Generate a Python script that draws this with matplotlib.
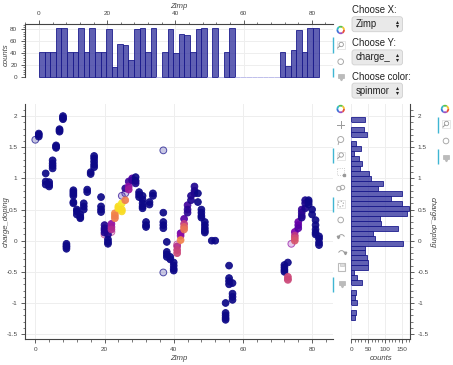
import matplotlib
matplotlib.use("Agg")
import matplotlib.pyplot as plt
import numpy as np
from matplotlib.patches import FancyBboxPatch, Wedge, Rectangle, Circle
from matplotlib.ticker import MultipleLocator, FuncFormatter

# -----------------------
# DATA
# -----------------------

# top histogram of Zimp (50 bins)
zimp_counts = [42, 41, 42, 83, 82, 42, 41, 82, 42, 83,
               41, 41, 80, 17, 56, 54, 29, 80, 82, 41,
               82, 0, 42, 80, 40, 72, 71, 42, 80, 83,
               0, 83, 0, 42, 83, 0, 0, 0, 0, 0,
               0, 0, 0, 42, 18, 45, 79, 42, 83, 82]

# right histogram of charge_doping, top to bottom
doping_counts = [40, 0, 36, 46, 0, 14, 30, 8, 24, 32, 26, 52, 58, 92,
                 80, 148, 116, 150, 170, 165, 85, 87, 138, 65, 69, 153,
                 40, 40, 45, 50, 50, 8, 16, 31, 0, 13, 11, 18, 0, 13, 10]

# scatter, one entry per Zimp column
column_zimp = [1, 3, 4, 5, 6, 7, 8, 9, 11, 12, 13, 14, 15, 16, 17, 19, 20, 21,
               22, 23, 24, 25, 26, 27, 28, 29, 30, 31, 32, 33, 34, 37, 38, 39,
               40, 41, 42, 43, 44, 45, 46, 47, 48, 49, 51, 52, 55, 56, 57,
               72, 73, 75, 76, 77, 78, 79, 80, 81, 82]
column_doping = [
    [1.67, 1.70, 1.72], [1.08, 0.95, 0.90], [0.94, 0.90, 0.87],
    [1.29, 1.24, 1.20, 1.16], [1.53, 1.51, 1.49], [1.79, 1.77, 1.75],
    [2.0, 1.97, 1.95], [-0.05, -0.08, -0.10, -0.13],
    [0.81, 0.78, 0.75, 0.72, 0.62, 0.60], [0.50, 0.47, 0.42],
    [0.42, 0.38, 0.36], [0.60, 0.55, 0.50], [0.82, 0.78], [1.10, 1.07],
    [1.36, 1.32, 1.27, 1.22, 1.18], [0.70, 0.55, 0.50, 0.46],
    [0.25, 0.20, 0.17, 0.13], [0.10, 0.02, -0.02, -0.05],
    [0.27, 0.22, 0.18], [0.44, 0.40, 0.36], [0.55, 0.52],
    [0.60, 0.50, 0.47], [0.65, 0.84], [0.95, 0.87, 0.82], [1.00, 0.97],
    [1.02, 0.96, 0.92], [0.78, 0.74, 0.70], [0.72, 0.66, 0.60, 0.55, 0.52],
    [0.30, 0.25, 0.22], [0.62, 0.58], [0.76, 0.72],
    [0.45, 0.30, 0.25, 0.20], [-0.02, -0.18, -0.22, -0.26], [-0.26, -0.30],
    [-0.35, -0.40, -0.45, -0.48], [-0.09, -0.15, -0.20], [0.12, 0.08, 0.01],
    [0.35, 0.27, 0.22, 0.18], [0.57, 0.50, 0.45], [0.72, 0.65],
    [0.87, 0.80, 0.76], [0.76, 0.62], [0.50, 0.45, 0.40, 0.37],
    [0.30, 0.25, 0.20, 0.16, 0.13], [0.0], [0.0],
    [-1.0, -1.16, -1.20, -1.24, -1.27], [-0.40, -0.60, -0.65, -0.70],
    [-0.68, -0.85, -0.90, -0.95], [-0.39, -0.43, -0.47, -0.50],
    [-0.35, -0.58, -0.62], [0.14, 0.08, 0.04, 0.0], [0.30, 0.25, 0.20],
    [0.50, 0.45, 0.40, 0.37], [0.65, 0.60, 0.52], [0.65, 0.62, 0.58],
    [0.50, 0.42], [0.33, 0.25, 0.18, 0.13, 0.10], [0.07, 0.03, -0.03, -0.07],
]
column_spin = [
    [0, 0, 0], [0, 0, 0], [0, 0, 0], [0, 0, 0, 0], [0, 0, 0], [0, 0, 0],
    [0, 0, 0], [0, 0, 0, 0], [0, 0, 0, 0, 0, 0], [0, 0, 0], [0, 0, 0],
    [0, 0, 0], [0, 0], [0, 0], [0, 0, 0, 0, 0], [0, 0, 0, 0],
    [0.03, 0.03, 0.03, 0.03], [0.03, 0, 0, 0], [0.3, 0.35, 0.4],
    [0.72, 0.7, 0.68], [0.93, 0.93], [0.96, 0.93, 0.93], [0.68, 0.05],
    [0.1, 0.3, 0.35], [0.15, 0.08], [0, 0, 0.02], [0, 0, 0],
    [0, 0, 0, 0, 0], [0, 0, 0], [0, 0], [0, 0], [0, 0, 0, 0],
    [0, 0, 0, 0], [0, 0], [0, 0, 0, 0], [0.42, 0.48, 0.5], [0.2, 0.3, 0.7],
    [0.15, 0.45, 0.6, 0.65], [0.1, 0.05, 0.05], [0.03, 0.03],
    [0.03, 0.03, 0.03], [0, 0], [0, 0, 0, 0], [0, 0, 0, 0, 0], [0], [0],
    [0, 0, 0, 0, 0], [0, 0, 0, 0], [0, 0, 0, 0], [0, 0, 0, 0],
    [0, 0.5, 0.5], [0.25, 0.45, 0.52, 0.55], [0.2, 0.18, 0.15],
    [0.08, 0.05, 0.05, 0.03], [0.02, 0.02, 0.02], [0, 0, 0], [0, 0],
    [0, 0, 0, 0, 0], [0, 0, 0, 0],
]

# isolated points, drawn pale
faint_zimp = [0, 37, 37, 25, 26, 74, 20, 22, 41, 73]
faint_doping = [1.62, -0.51, 1.45, 0.72, 0.76, -0.05, 0.10, 0.14, -0.06, -0.63]
faint_spin = [0.0, 0.0, 0.0, 0.05, 0.05, 0.3, 0.42, 0.42, 0.42, 0.5]

x_ticks = [0, 20, 40, 60, 80]
y_ticks = [-1.5, -1, -0.5, 0, 0.5, 1, 1.5, 2]
top_count_ticks = [0, 20, 40, 60, 80]
right_count_ticks = [0, 50, 100, 150]

widget_labels = ["Choose X:", "Choose Y:", "Choose color:"]
widget_values = ["Zimp", "charge_", "spinmor"]

# -----------------------
# LAYOUT HELPERS
# -----------------------

W, H = 453, 365
GREY = "#444444"
GRID = "#eeeeee"
BAR_FILL = (0.2, 0.2, 0.62, 0.78)
BAR_EDGE = (0.1, 0.1, 0.55, 0.85)
EMPTY_EDGE = (0.75, 0.75, 0.92, 1.0)
SANS = ["Liberation Sans", "DejaVu Sans"]

plt.rcParams["font.family"] = SANS


def px_axes(fig, left, top, right, bottom):
    return fig.add_axes([left / W, 1 - bottom / H, (right - left) / W, (bottom - top) / H])


def fmt_tick(v, _pos=None):
    return f"{v:g}"


def style_axes(ax, x_minor, y_minor):
    ax.xaxis.set_minor_locator(MultipleLocator(x_minor))
    ax.yaxis.set_minor_locator(MultipleLocator(y_minor))
    ax.xaxis.set_major_formatter(FuncFormatter(fmt_tick))
    ax.yaxis.set_major_formatter(FuncFormatter(fmt_tick))
    ax.tick_params(which="major", length=3, width=0.6, color=GREY, labelsize=4.6,
                   labelcolor=GREY, pad=2.5)
    ax.tick_params(which="minor", length=1.8, width=0.5, color=GREY)
    ax.grid(True, color=GRID, lw=0.7)
    ax.set_axisbelow(True)
    for s in ax.spines.values():
        s.set_visible(False)
        s.set_linewidth(0.8)
        s.set_color(GREY)


def axis_label(ov, x, y, text, rotation=0):
    ov.text(x, y, text, style="italic", fontsize=5.6, color=GREY, rotation=rotation,
            ha="center", va="center")


def logo(ov, x, y):
    colors = ["#f2c230", "#e8503a", "#a04fc0", "#3f73d8", "#35b8c8", "#5cc24a"]
    for i, c in enumerate(colors):
        ov.add_patch(Wedge((x, y), 4.2, i * 60 - 60, i * 60, width=1.8, fc=c, ec="none"))


def icon_zoom(ov, x, y):
    ov.add_patch(Rectangle((x - 4, y - 4), 8, 8, fc="none", ec="#dddddd", lw=0.5))
    ov.add_patch(Circle((x + 0.5, y - 0.5), 2.2, fc="none", ec="#999999", lw=0.6))
    ov.plot([x - 1, x - 3], [y + 1, y + 3], color="#999999", lw=0.7)


def icon_circle(ov, x, y):
    ov.add_patch(Circle((x, y), 2.8, fc="none", ec="#aaaaaa", lw=0.7))


def icon_move(ov, x, y):
    ov.plot([x - 3.5, x + 3.5], [y, y], color="#999999", lw=0.7)
    ov.plot([x, x], [y - 3.5, y + 3.5], color="#999999", lw=0.7)


def icon_lasso(ov, x, y):
    ov.add_patch(Circle((x, y - 0.5), 3, fc="none", ec="#aaaaaa", lw=0.7))
    ov.plot([x - 2, x - 2.5], [y + 2, y + 4.5], color="#aaaaaa", lw=0.7)


def icon_box(ov, x, y):
    ov.add_patch(Rectangle((x - 3.5, y - 3.5), 7, 7, fc="none", ec="#bbbbbb", lw=0.6, ls=":"))
    ov.plot([x + 3], [y + 3], "s", ms=1.5, color="#999999")


def icon_link(ov, x, y):
    ov.add_patch(Circle((x - 1.8, y + 0.5), 2.2, fc="none", ec="#aaaaaa", lw=0.7))
    ov.add_patch(Circle((x + 1.8, y - 0.5), 2.2, fc="none", ec="#aaaaaa", lw=0.7))


def icon_wheel(ov, x, y):
    ov.add_patch(Rectangle((x - 4, y - 4), 8, 8, fc="none", ec="#dddddd", lw=0.5))
    ov.add_patch(Circle((x, y), 2.8, fc="none", ec="#999999", lw=0.8, ls=":"))


def icon_undo(ov, x, y, sign):
    ov.add_patch(Wedge((x, y + 2), 3.5, 200, 340, width=0.9, fc="#999999", ec="none"))
    ov.plot([x - sign * 3.2], [y + 1.5], marker="v", ms=1.8, color="#999999")


def icon_save(ov, x, y):
    ov.add_patch(Rectangle((x - 3.8, y - 3.8), 7.6, 7.6, fc="none", ec="#bbbbbb", lw=0.8))
    ov.add_patch(Rectangle((x - 2, y - 3.8), 4, 3, fc="#dddddd", ec="#bbbbbb", lw=0.4))


def icon_hover(ov, x, y):
    ov.add_patch(Rectangle((x - 3, y - 2.5), 6, 4.5, fc="#bbbbbb", ec="#aaaaaa", lw=0.4))
    ov.plot([x], [y + 3], marker="v", ms=1.8, color="#bbbbbb")


# -----------------------
# FIGURE
# -----------------------

fig = plt.figure(figsize=(W / 100, H / 100), dpi=100)

# main scatter
ax = px_axes(fig, 25, 104, 333, 339)
ax.set_xlim(-2.98, 86.04)
ax.set_ylim(-1.578, 2.194)
style_axes(ax, 4, 0.1)
ax.spines["left"].set_visible(True)
ax.spines["bottom"].set_visible(True)
ax.set_xticks(x_ticks)
ax.set_yticks(y_ticks)

pt_x = np.concatenate([[z] * len(d) for z, d in zip(column_zimp, column_doping)])
pt_y = np.concatenate(column_doping)
pt_c = np.concatenate(column_spin)
cmap = plt.get_cmap("plasma")

ax.scatter(faint_zimp, faint_doping, s=24,
           facecolors=[(*cmap(c)[:3], 0.22) for c in faint_spin],
           edgecolors=[(*cmap(c)[:3], 0.7) for c in faint_spin], linewidths=0.7, zorder=2)
ax.scatter(pt_x, pt_y, s=24, c=pt_c, cmap=cmap, vmin=0, vmax=1, alpha=0.92,
           edgecolors=[(*cmap(c)[:3], 0.7) for c in pt_c], linewidths=0.6, zorder=3)

# top histogram
ax_top = px_axes(fig, 25, 24, 333, 76.7)
ax_top.set_xlim(-4.1, 86.2)
ax_top.set_ylim(0, 89)
style_axes(ax_top, 4, 4)
ax_top.spines["left"].set_visible(True)
ax_top.spines["top"].set_visible(True)
ax_top.xaxis.tick_top()
ax_top.set_xticks(x_ticks)
ax_top.set_yticks(top_count_ticks)
z_edges = np.linspace(0, 82, len(zimp_counts) + 1)
ax_top.bar(z_edges[:-1], zimp_counts, width=np.diff(z_edges), align="edge", color=BAR_FILL,
           edgecolor=[BAR_EDGE if c else EMPTY_EDGE for c in zimp_counts],
           linewidth=0.7, zorder=2, clip_on=False)

# right histogram
ax_right = px_axes(fig, 351.3, 104, 410, 339)
ax_right.set_xlim(0, 173)
ax_right.set_ylim(-1.578, 2.194)
style_axes(ax_right, 10, 0.1)
ax_right.spines["right"].set_visible(True)
ax_right.spines["bottom"].set_visible(True)
ax_right.yaxis.tick_right()
ax_right.set_xticks(right_count_ticks)
ax_right.set_yticks(y_ticks)
d_edges = np.linspace(1.99, -1.27, len(doping_counts) + 1)
ax_right.barh(d_edges[:-1], doping_counts, height=np.diff(d_edges), align="edge", color=BAR_FILL,
              edgecolor=[BAR_EDGE if c else EMPTY_EDGE for c in doping_counts],
              linewidth=0.7, zorder=2)

# overlay in pixel coordinates for labels, widgets and toolbars
ov = fig.add_axes([0, 0, 1, 1], facecolor="none")
ov.set_xlim(0, W)
ov.set_ylim(H, 0)
ov.axis("off")

axis_label(ov, 179, 358, "Zimp")
axis_label(ov, 179, 7, "Zimp")
axis_label(ov, 6, 222, "charge_doping", rotation=90)
axis_label(ov, 6.5, 55, "counts", rotation=90)
axis_label(ov, 381, 358, "counts")
axis_label(ov, 432, 222, "charge_doping", rotation=270)

for i, (lab, val) in enumerate(zip(widget_labels, widget_values)):
    top = 16.7 + i * 33.2
    ov.text(351.5, top - 6.5, lab, fontsize=6.9, color="#222222", va="center")
    ov.add_patch(FancyBboxPatch((352, top), 50.5, 15, boxstyle="round,pad=0,rounding_size=2.5",
                                fc="#e9e9e9", ec="#d0d0d0", lw=0.6))
    ov.text(356, top + 7.5, val, fontsize=6.9, color="#222222", va="center")
    ov.plot([396.7], [top + 5.3], marker="^", ms=2.2, color="#222222", mew=0)
    ov.plot([396.7], [top + 9.7], marker="v", ms=2.2, color="#222222", mew=0)

logo(ov, 340.7, 30)
icon_zoom(ov, 340.7, 45)
icon_circle(ov, 340.7, 61.7)
icon_hover(ov, 340.7, 76)

logo(ov, 340.7, 109)
icon_move(ov, 340.7, 124.5)
icon_lasso(ov, 340.7, 140)
icon_zoom(ov, 340.7, 155.5)
icon_box(ov, 340.7, 171.7)
icon_link(ov, 340.7, 188)
icon_wheel(ov, 340.7, 204)
icon_circle(ov, 340.7, 220)
icon_undo(ov, 341.5, 235.7, 1)
icon_undo(ov, 341.5, 251.7, -1)
icon_save(ov, 341.5, 266.7)
icon_hover(ov, 341.5, 283.3)

logo(ov, 445, 109)
icon_zoom(ov, 446, 124)
icon_circle(ov, 446, 141)
icon_hover(ov, 446, 157)

for x, y0, y1 in [(333.3, 37, 52.7), (333.3, 68, 77), (333.3, 148, 163), (333.3, 197, 212),
                  (333.3, 277, 292), (437.5, 117, 133), (437.5, 149, 164)]:
    ov.plot([x, x], [y0, y1], color="#3fb6d3", lw=1.0, solid_capstyle="butt")

fig.savefig("out.png", dpi=100)
